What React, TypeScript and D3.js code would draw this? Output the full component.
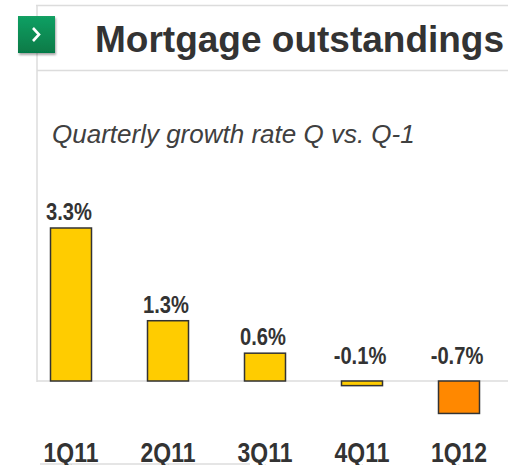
import * as d3 from "d3";

const categories = ["1Q11", "2Q11", "3Q11", "4Q11", "1Q12"];
const growth = [3.3, 1.3, 0.6, -0.1, -0.7];
const valueLabels = ["3.3%", "1.3%", "0.6%", "-0.1%", "-0.7%"];

const W = 508;
const H = 465;
const FONT = "'Liberation Sans', Arial, sans-serif";

const App = () => {
  const x = d3.scalePoint<string>().domain(categories).range([22.5, 507.5]).padding(0.5);
  const y = d3.scaleLinear().domain([0, 3.3]).range([381, 228]);
  const barW = 41;

  return (
    <svg
      width={W}
      height={H}
      style={{ position: "absolute", left: 0, top: 0, background: "#fff" }}
    >
      <defs>
        <linearGradient id="grn" x1="0" y1="0" x2="0" y2="1">
          <stop offset="0" stopColor="#12a063" />
          <stop offset="1" stopColor="#067a47" />
        </linearGradient>
        <filter id="sh" x="-20%" y="-20%" width="150%" height="150%">
          <feDropShadow dx="1" dy="2" stdDeviation="1.2" floodColor="#000" floodOpacity="0.35" />
        </filter>
      </defs>

      {/* frame lines */}
      <line x1={36} x2={W} y1={5.5} y2={5.5} stroke="#dcdcdc" strokeWidth={1.5} />
      <line x1={37} x2={37} y1={5} y2={382} stroke="#dcdcdc" strokeWidth={1.5} />
      <line x1={37} x2={W} y1={70.5} y2={70.5} stroke="#dcdcdc" strokeWidth={1.5} />
      <line x1={40} x2={250} y1={464} y2={464} stroke="#dcdcdc" strokeWidth={1.5} />

      {/* green marker */}
      <rect x={18} y={16} width={37} height={37} fill="url(#grn)" filter="url(#sh)" />
      <path d="M33,28 L39,34.5 L33,41" fill="none" stroke="#fff" strokeWidth={2.6} />

      <text x={95} y={52} fontFamily={FONT} fontWeight="bold" fontSize={37} fill="#333">
        Mortgage outstandings
      </text>
      <text x={52} y={143} fontFamily={FONT} fontStyle="italic" fontSize={26} fill="#404040">
        Quarterly growth rate Q vs. Q-1
      </text>

      {/* zero line */}
      <line x1={37} x2={W} y1={y(0)} y2={y(0)} stroke="#dcdcdc" strokeWidth={1.5} />

      {categories.map((c, i) => {
        const v = growth[i];
        const cx = x(c) as number;
        const top = Math.min(y(v), y(0));
        const h = Math.abs(y(v) - y(0));
        const ly = v >= 0 ? y(v) - 8 : y(0) - 17;
        return (
          <g key={c}>
            <rect
              x={cx - barW / 2}
              y={top}
              width={barW}
              height={Math.max(h, 4)}
              fill={i === 4 ? "#ff8800" : "#ffcc00"}
              stroke="#333"
              strokeWidth={1.5}
            />
            <text
              transform={`translate(${cx - 2},${ly}) scale(0.84,1)`}
              textAnchor="middle"
              fontFamily={FONT}
              fontWeight="bold"
              fontSize={24}
              fill="#333"
            >
              {valueLabels[i]}
            </text>
            <text
              transform={`translate(${cx},462) scale(0.85,1)`}
              textAnchor="middle"
              fontFamily={FONT}
              fontWeight="bold"
              fontSize={27}
              fill="#333"
            >
              {c}
            </text>
          </g>
        );
      })}
    </svg>
  );
};

export default App;
